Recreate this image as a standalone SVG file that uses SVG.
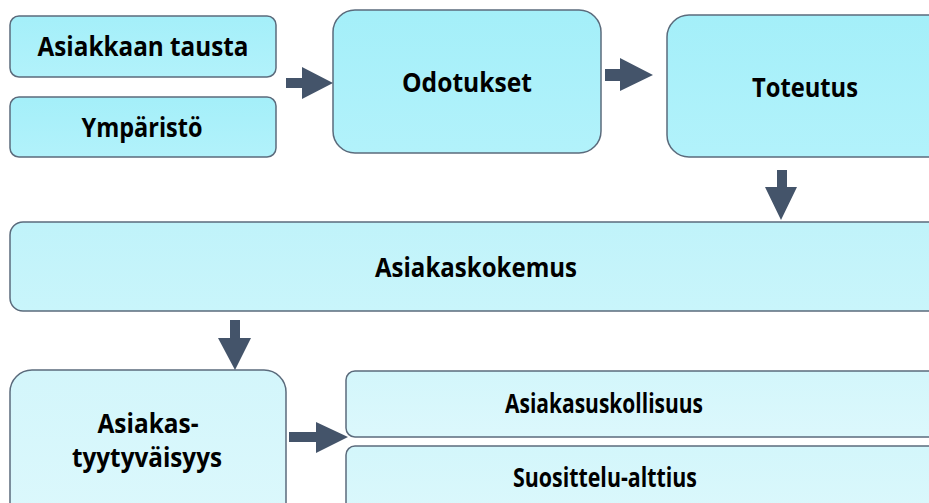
<svg xmlns="http://www.w3.org/2000/svg" width="929" height="503" viewBox="0 0 929 503">
<style>
.box{stroke:#5b6b7c;stroke-width:1.5}
.t{font-family:"Open Sans","Liberation Sans",sans-serif;font-weight:bold;font-size:26.5px;fill:#000;text-anchor:middle}
.arr{fill:#44546a}
</style>
<defs>
<linearGradient id="g1" x1="0" y1="0" x2="0" y2="1"><stop offset="0" stop-color="#a4eff9"/><stop offset="1" stop-color="#b2f2fb"/></linearGradient>
<linearGradient id="g2" x1="0" y1="0" x2="0" y2="1"><stop offset="0" stop-color="#c0f3fa"/><stop offset="1" stop-color="#c9f5fb"/></linearGradient>
<linearGradient id="g3" x1="0" y1="0" x2="0" y2="1"><stop offset="0" stop-color="#d3f6fb"/><stop offset="1" stop-color="#dcf8fc"/></linearGradient>
</defs>
<rect width="929" height="503" fill="#fff"/>
<g id="asiakkaan-tausta"><rect class="box" x="10" y="16" width="266" height="61" rx="9" fill="url(#g1)"/><text class="t" x="143" y="56" textLength="211" lengthAdjust="spacingAndGlyphs">Asiakkaan tausta</text></g>
<g id="ymparisto"><rect class="box" x="10" y="97" width="266" height="60" rx="9" fill="url(#g1)"/><text class="t" x="142" y="137" textLength="121" lengthAdjust="spacingAndGlyphs">Ympäristö</text></g>
<g id="odotukset"><rect class="box" x="333" y="10" width="268" height="143" rx="22" fill="url(#g1)"/><text class="t" x="467" y="92" textLength="130" lengthAdjust="spacingAndGlyphs">Odotukset</text></g>
<g id="toteutus"><rect class="box" x="667" y="15" width="290" height="142" rx="22" fill="url(#g1)"/><text class="t" x="805" y="97" textLength="106" lengthAdjust="spacingAndGlyphs">Toteutus</text></g>
<g id="asiakaskokemus"><rect class="box" x="10" y="222" width="960" height="89" rx="13" fill="url(#g2)"/><text class="t" x="476" y="277" textLength="202" lengthAdjust="spacingAndGlyphs">Asiakaskokemus</text></g>
<g id="asiakastyytyvaisyys"><rect class="box" x="10" y="370" width="276" height="160" rx="22" fill="url(#g3)"/><text class="t" x="148" y="433" textLength="101" lengthAdjust="spacingAndGlyphs">Asiakas-</text><text class="t" x="147" y="467" textLength="150" lengthAdjust="spacingAndGlyphs">tyytyväisyys</text></g>
<g id="asiakasuskollisuus"><rect class="box" x="346" y="371" width="620" height="66" rx="9" fill="url(#g3)"/><text class="t" x="604" y="413" textLength="198" lengthAdjust="spacingAndGlyphs">Asiakasuskollisuus</text></g>
<g id="suosittelu-alttius"><rect class="box" x="346" y="446" width="620" height="80" rx="9" fill="url(#g3)"/><text class="t" x="605" y="487" textLength="184" lengthAdjust="spacingAndGlyphs">Suosittelu-alttius</text></g>
<g id="connectors">
<polygon class="arr" points="286,78 302,78 302,67 333,83 302,99 302,88 286,88"/>
<polygon class="arr" points="605,69 620,69 620,58 653,75 620,91 620,81 605,81"/>
<polygon class="arr" points="777,170 787,170 787,187 797,187 781,220 765,187 777,187"/>
<polygon class="arr" points="230,320 240,320 240,338 251,338 235,370 218,338 230,338"/>
<polygon class="arr" points="289,432 316,432 316,422 348,437 316,453 316,442 289,442"/>
</g>
</svg>
